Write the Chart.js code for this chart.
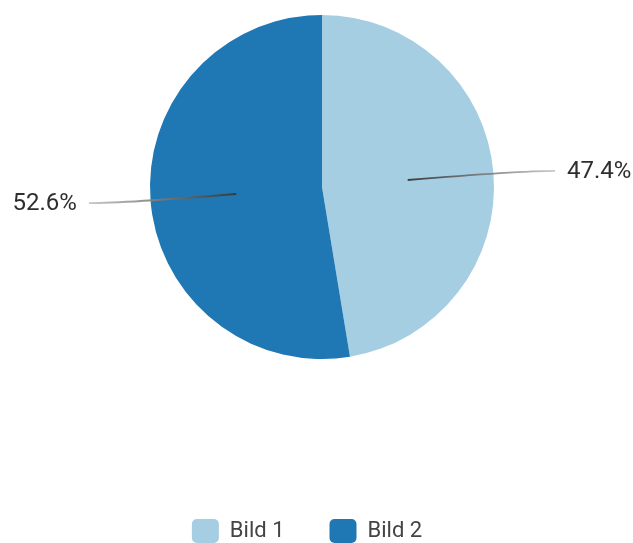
<!DOCTYPE html>
<html>
<head>
<meta charset="utf-8">
<script src="https://cdn.jsdelivr.net/npm/chart.js@4/dist/chart.umd.min.js"></script>
<style>
  html, body { margin: 0; padding: 0; background: #ffffff; }
  #wrap { width: 633px; height: 543px; }
</style>
</head>
<body>
<div id="wrap"><canvas id="pie" width="633" height="543"></canvas></div>
<script>
// Share of each picture
const categories = ['Bild 1', 'Bild 2'];
const shares = [47.4, 52.6];
const sliceColors = ['#a6cee3', '#1f78b4'];

const FONT = 'Roboto, "Noto Sans", sans-serif';

// Percent labels outside the pie, joined to each slice by a curved leader line
const outsideLabels = {
  id: 'outsideLabels',
  afterDatasetsDraw(chart) {
    const ctx = chart.ctx;
    const meta = chart.getDatasetMeta(0);
    const values = chart.data.datasets[0].data;
    const total = values.reduce((a, b) => a + b, 0);
    ctx.save();
    meta.data.forEach((arc, i) => {
      const { x, y, startAngle, endAngle, outerRadius: r } = arc.getProps(['x', 'y', 'startAngle', 'endAngle', 'outerRadius'], true);
      const mid = (startAngle + endAngle) / 2;
      const cos = Math.cos(mid), sin = Math.sin(mid);
      const dir = cos >= 0 ? 1 : -1;
      const sx = x + cos * r * 0.5, sy = y + sin * r * 0.5;
      const ex = x + cos * r * 1.15, ey = y + sin * r * 1.15;
      const tx = x + dir * r * 1.355;

      const grad = ctx.createLinearGradient(sx, sy, tx, ey);
      grad.addColorStop(0, 'rgba(55,55,55,0.95)');
      grad.addColorStop(0.55, 'rgba(125,125,125,0.9)');
      grad.addColorStop(1, 'rgba(195,195,195,0.9)');
      ctx.strokeStyle = grad;
      ctx.lineWidth = 1.8;
      ctx.beginPath();
      ctx.moveTo(sx, sy);
      ctx.quadraticCurveTo(ex, ey, tx, ey);
      ctx.stroke();

      const pct = (values[i] / total * 100).toFixed(1) + '%';
      ctx.fillStyle = '#2e2e2e';
      ctx.font = '24px ' + FONT;
      ctx.textBaseline = 'middle';
      ctx.textAlign = dir > 0 ? 'left' : 'right';
      ctx.fillText(pct, tx + dir * 12, ey + 1);
    });
    ctx.restore();
  }
};

// Nudges the legend row horizontally
const legendShift = {
  id: 'legendShift',
  afterLayout(chart) {
    const lg = chart.legend;
    if (lg) { lg.left -= 15; lg.right -= 15; }
  }
};

new Chart(document.getElementById('pie'), {
  type: 'pie',
  data: {
    labels: categories,
    datasets: [{
      data: shares,
      backgroundColor: sliceColors,
      borderWidth: 0
    }]
  },
  options: {
    responsive: false,
    devicePixelRatio: 1,
    animation: false,
    layout: { padding: { top: 15, bottom: -10, left: 11, right: 0 } },
    plugins: {
      tooltip: { enabled: false },
      legend: {
        position: 'bottom',
        title: {
          display: true,
          text: '',
          font: { size: 10, lineHeight: '10px' },
          padding: { top: 105, bottom: 0 }
        },
        labels: {
          boxWidth: 27,
          boxHeight: 24,
          padding: 45,
          useBorderRadius: true,
          borderRadius: 5,
          color: '#444444',
          font: { size: 22, family: FONT }
        }
      }
    }
  },
  plugins: [outsideLabels, legendShift]
});
</script>
</body>
</html>
